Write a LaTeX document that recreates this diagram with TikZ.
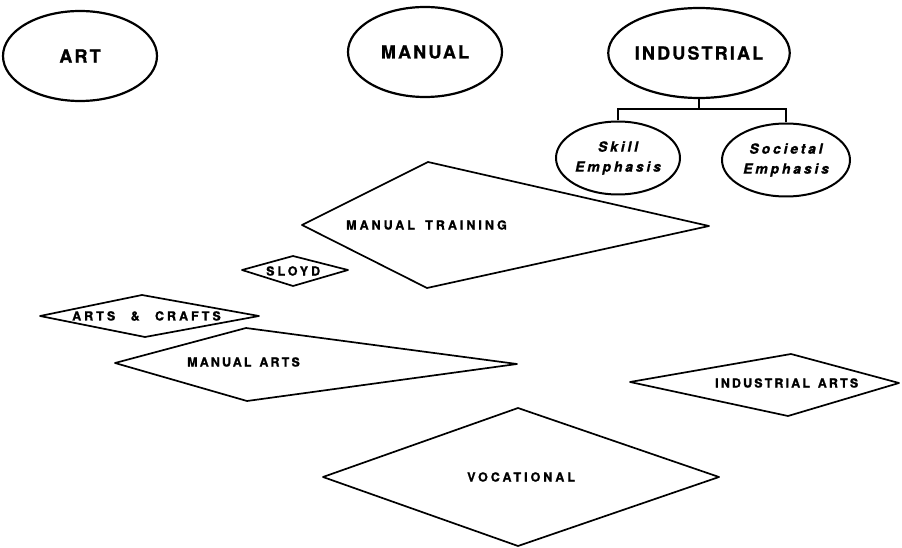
\documentclass[tikz,border=0pt]{standalone}
\usepackage{fontspec}
\usetikzlibrary{shapes.geometric}
\newfontfamily\bigfont[LetterSpace=12,FakeBold=1]{TeX Gyre Heros}
\newfontfamily\smallfont[LetterSpace=24,WordSpace=1.6,FakeBold=1.2]{TeX Gyre Heros}
\newfontfamily\tightfont[LetterSpace=17,WordSpace=1.4,FakeBold=1.2]{TeX Gyre Heros}
\newfontfamily\itfont[LetterSpace=20,FakeBold=1]{TeX Gyre Heros}
\tikzset{
  outline/.style={line width=1.7pt, line join=round},
  field/.style={ellipse, draw, line width=2.2pt, inner sep=0pt,
    minimum width=154pt, minimum height=90pt,
    font=\bigfont\bfseries\fontsize{18}{20}\selectfont},
  emph/.style={ellipse, draw, line width=2pt, inner sep=0pt,
    minimum height=73pt, align=center,
    font=\itfont\bfseries\itshape\fontsize{14}{20}\selectfont},
  tag/.style={inner sep=0pt, anchor=west,
    font=\smallfont\bfseries\fontsize{12.5}{13}\selectfont},
  tighttag/.style={tag, font=\tightfont\bfseries\fontsize{12.5}{13}\selectfont}
}
\begin{document}
\begin{tikzpicture}[x=1pt,y=-1pt]
\useasboundingbox (0,0) rectangle (902,548);

% the three source fields
\node[field] (art) at (80,56) {ART};
\node[field] (manual) at (425,52) {MANUAL};
\node[field] (ind) at (699,53) {INDUSTRIAL};
\node[emph, minimum width=124pt] (skill) at (618,158) {Skill\\Emphasis};
\node[emph, minimum width=128pt] (soc) at (786,160) {Societal\\Emphasis};

% branch from INDUSTRIAL to its two emphases
\coordinate (fork) at (699,109);
\draw[line width=1.8pt] (ind.south) -- (fork);
\draw[line width=1.8pt] (skill.north) |- (fork) -| (soc.north);

% movements, drawn as skewed diamonds
\draw[outline] (428,162) -- (709,226) -- (427,288) -- (302,225) -- cycle;
\node[tag] (mt) at (346,225) {MANUAL TRAINING};

\draw[outline] (293,256) -- (348,270) -- (293,286) -- (242,270) -- cycle;
\node[tag] (sloyd) at (266,271) {SLOYD};

\draw[outline] (142,295) -- (259,316) -- (145,337) -- (40,316) -- cycle;
\node[tag] (ac) at (72,316) {ARTS\hspace{5pt} \&\hspace{5pt} CRAFTS};

\draw[outline] (246,328) -- (517,364) -- (247,401) -- (115,363) -- cycle;
\node[tighttag] (ma) at (187,362) {MANUAL ARTS};

\draw[outline] (791,354) -- (899,383) -- (788,416) -- (630,382) -- cycle;
\node[tighttag] (ia) at (715,383) {INDUSTRIAL ARTS};

\draw[outline] (518,408) -- (719,477) -- (518,546) -- (323,477) -- cycle;
\node[tag] (voc) at (467,477) {VOCATIONAL};
\end{tikzpicture}
\end{document}
